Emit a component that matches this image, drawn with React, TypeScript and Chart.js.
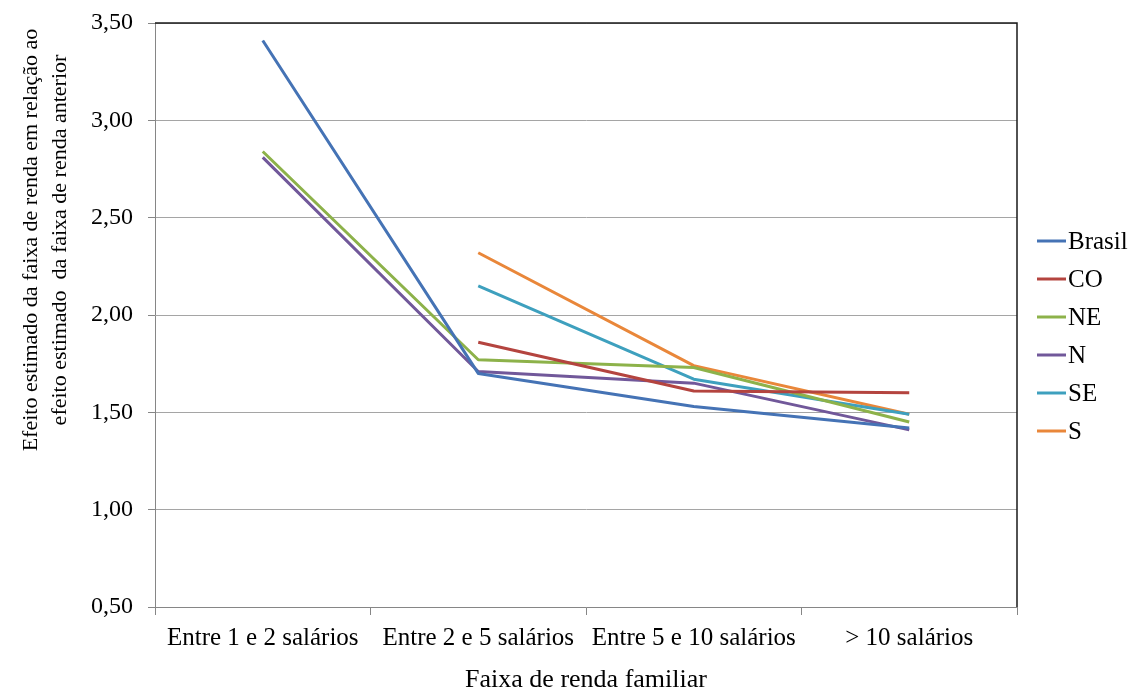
import React, { useEffect, useRef } from "react";
import { Chart, registerables } from "chart.js";

Chart.register(...registerables);

// Income brackets on the category axis
const categories = [
  "Entre 1 e 2 salários",
  "Entre 2 e 5 salários",
  "Entre 5 e 10 salários",
  "> 10 salários",
];

// Estimated effect per region (null = no estimate for that bracket)
const brasil = [3.41, 1.7, 1.53, 1.42];
const co = [null, 1.86, 1.61, 1.6];
const ne = [2.84, 1.77, 1.73, 1.45];
const norte = [2.81, 1.71, 1.65, 1.41];
const se = [null, 2.15, 1.67, 1.49];
const sul = [null, 2.32, 1.74, 1.49];

const seriesNames = ["Brasil", "CO", "NE", "N", "SE", "S"];
const seriesValues = [brasil, co, ne, norte, se, sul];
const seriesColors = ["#4573B5", "#B4443F", "#8DB24A", "#71589A", "#3EA0BE", "#E9873A"];

// Value axis range
const yMin = 0.5;
const yMax = 3.5;
const yStep = 0.5;

const yTitleLines = [
  "Efeito estimado da faixa de renda em relação ao",
  "efeito estimado  da faixa de renda anterior",
];
const xTitle = "Faixa de renda familiar";

const FONT = "'Liberation Serif', 'Times New Roman', serif";

const fmt = (v: number) => v.toFixed(2).replace(".", ",");

// Plot frame, rotated value-axis title and the series key on the right
const decorPlugin = {
  id: "decor",
  beforeDatasetsDraw(chart: any) {
    const { ctx, chartArea } = chart;
    const { left, right, top, bottom } = chartArea;
    ctx.save();
    ctx.strokeStyle = "#1a1a1a";
    ctx.lineWidth = 1.5;
    ctx.beginPath();
    ctx.moveTo(left, top);
    ctx.lineTo(right, top);
    ctx.lineTo(right, bottom);
    ctx.stroke();
    ctx.restore();
  },
  afterDraw(chart: any) {
    const { ctx } = chart;
    ctx.save();
    // value-axis title, two centred lines
    ctx.fillStyle = "#000";
    ctx.font = `22px ${FONT}`;
    ctx.textAlign = "center";
    ctx.textBaseline = "middle";
    const centerY = 240;
    const lineXs = [31, 60];
    yTitleLines.forEach((line, i) => {
      ctx.save();
      ctx.translate(lineXs[i], centerY);
      ctx.rotate(-Math.PI / 2);
      ctx.fillText(line, 0, 0);
      ctx.restore();
    });

    // series key
    ctx.font = `25px ${FONT}`;
    ctx.textAlign = "left";
    ctx.textBaseline = "middle";
    const firstY = 241;
    const rowGap = 38;
    chart.data.datasets.forEach((ds: any, i: number) => {
      const y = firstY + i * rowGap;
      ctx.strokeStyle = ds.borderColor;
      ctx.lineWidth = 3;
      ctx.beginPath();
      ctx.moveTo(1037, y);
      ctx.lineTo(1066, y);
      ctx.stroke();
      ctx.fillStyle = "#000";
      ctx.fillText(ds.label, 1068, y + 1);
    });
    ctx.restore();
  },
};

export default function App() {
  const canvasRef = useRef<HTMLCanvasElement | null>(null);

  useEffect(() => {
    const canvas = canvasRef.current;
    if (!canvas) return;
    const chart = new Chart(canvas, {
      type: "line",
      data: {
        labels: categories,
        datasets: seriesNames.map((name, i) => ({
          label: name,
          data: seriesValues[i],
          borderColor: seriesColors[i],
          backgroundColor: seriesColors[i],
          borderWidth: 3,
          pointRadius: 0,
          pointHoverRadius: 0,
          tension: 0,
          fill: false,
          spanGaps: false,
          borderJoinStyle: "round" as const,
        })),
      },
      options: {
        responsive: false,
        animation: false,
        devicePixelRatio: 1,
        layout: { padding: { left: 0, top: 23, right: 115, bottom: 0 } },
        plugins: {
          legend: { display: false },
          tooltip: { enabled: false },
          title: { display: false },
        },
        scales: {
          x: {
            type: "category",
            offset: true,
            grid: {
              display: true,
              drawOnChartArea: false,
              drawTicks: true,
              tickLength: 8,
              offset: true,
              tickColor: "#868686",
            },
            border: { display: true, color: "#868686", width: 1 },
            ticks: {
              color: "#000",
              font: { family: FONT, size: 25 },
              padding: 8,
              maxRotation: 0,
              autoSkip: false,
            },
            title: {
              display: true,
              text: xTitle,
              color: "#000",
              font: { family: FONT, size: 26, lineHeight: 0.85 },
              padding: { top: 0, bottom: 0 },
            },
            afterFit(scale: any) {
              scale.height = 84;
              scale.paddingLeft = 0;
              scale.paddingRight = 0;
            },
          },
          y: {
            type: "linear",
            min: yMin,
            max: yMax,
            ticks: {
              stepSize: yStep,
              color: "#000",
              font: { family: FONT, size: 24 },
              padding: 15,
              callback: (v: any) => fmt(Number(v)),
            },
            grid: {
              color: "#a5a5a5",
              lineWidth: 1,
              drawTicks: true,
              tickLength: 7,
              tickColor: "#868686",
            },
            border: { display: true, color: "#868686", width: 1 },
            afterFit(scale: any) {
              scale.width = 155;
              scale.paddingTop = 0;
              scale.paddingBottom = 0;
            },
          },
        },
      },
      plugins: [decorPlugin],
    });
    return () => chart.destroy();
  }, []);

  return (
    <div style={{ position: "fixed", left: 0, top: 0, width: 1132, height: 691, background: "#fff" }}>
      <canvas ref={canvasRef} width={1132} height={691} style={{ display: "block" }} />
    </div>
  );
}
